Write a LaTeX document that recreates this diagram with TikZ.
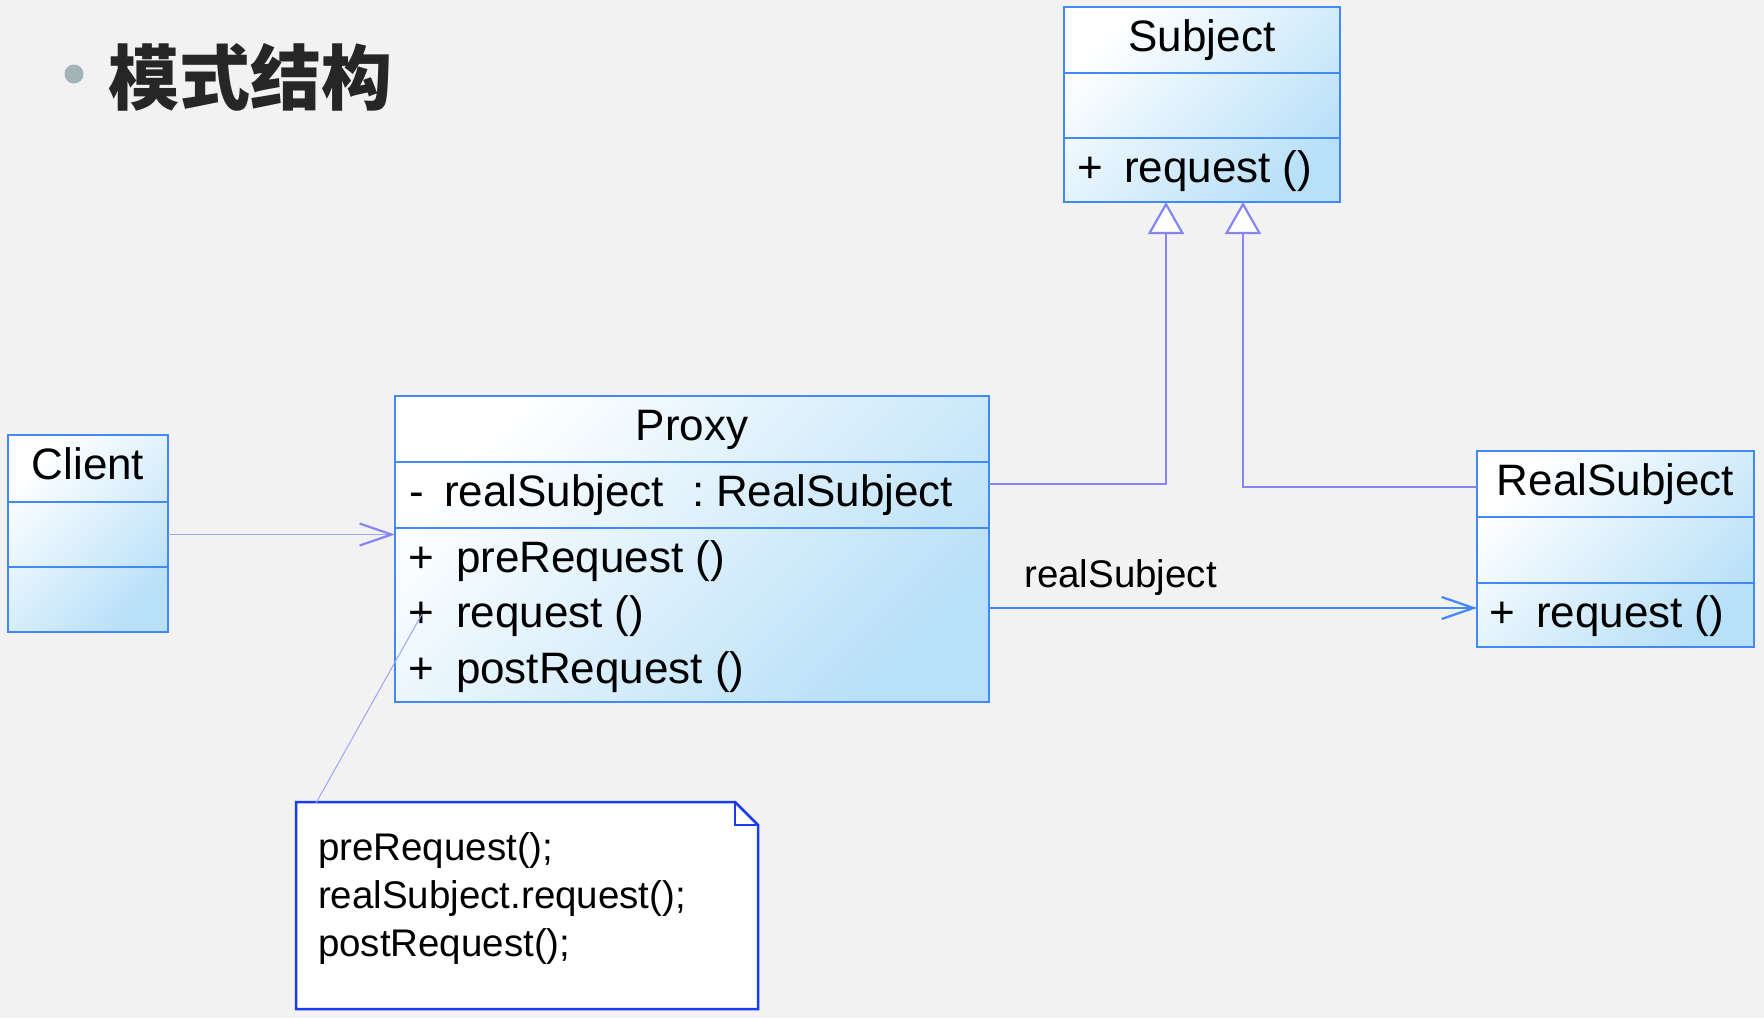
\documentclass[tikz,border=0pt]{standalone}
\usepackage{fontspec}
\setmainfont{Liberation Sans}
\newfontfamily\cjk{Noto Sans CJK SC}
\usetikzlibrary{arrows.meta,calc}
\definecolor{bg}{HTML}{F2F2F2}
\definecolor{boxline}{HTML}{4189F5}
\definecolor{boxfill}{HTML}{B8E0F8}
\definecolor{genline}{HTML}{8585F8}
\definecolor{noteline}{HTML}{1A3CF0}
\definecolor{thinline}{HTML}{9EA4FF}
\definecolor{titlec}{HTML}{262626}
\definecolor{bulletc}{HTML}{A3B3B8}
\newcommand\clsfont{\fontsize{44}{55}\selectfont}
\newcommand\notefont{\fontsize{38.5}{48}\selectfont}
\tikzset{
  classbox/.style={top color=white, bottom color=boxfill,
    shading angle=45, anchor=north west, inner sep=0pt, outer sep=0pt},
  comp/.style={draw=boxline, line width=2.4pt, anchor=north west, inner sep=0pt, outer sep=0pt},
  txt/.style={inner sep=0pt, outer sep=0pt, anchor=base west, font=\clsfont, text=black},
  ctxt/.style={inner sep=0pt, outer sep=0pt, anchor=base, font=\clsfont, text=black},
  ntxt/.style={inner sep=0pt, outer sep=0pt, anchor=base west, font=\notefont, text=black},
  gen/.style={draw=genline, line width=2.2pt,
    -{Triangle[open, fill=white, length=32pt, width=36pt]}},
  assoc/.style={draw=boxline, line width=2.2pt,
    -{Straight Barb[length=32pt, width=22pt]}},
  thinarrow/.style={draw=thinline, line width=1pt,
    -{Straight Barb[length=32pt, width=22pt, line width=2.2pt, color=genline]}},
  thinlink/.style={draw=thinline, line width=1pt},
}
\begin{document}
\begin{tikzpicture}[x=1pt, y=-1pt]
\fill[bg] (0,0) rectangle (1764,1018);
\useasboundingbox (0,0) rectangle (1764,1018);

% title
\fill[bulletc] (74,74) circle (9.5);
\node[inner sep=0pt, anchor=base west, text=titlec, font=\cjk\bfseries\fontsize{71}{80}\selectfont] (title) at (108,104) {模式结构};

% Subject
\node[classbox, minimum width=276pt, minimum height=195pt] (subj) at (1064,7) {};
\node[comp, minimum width=276pt, minimum height=66pt] (subjHead) at (1064,7) {};
\node[comp, minimum width=276pt, minimum height=65pt] (subjAttr) at (1064,73) {};
\node[comp, minimum width=276pt, minimum height=64pt] (subjOps) at (1064,138) {};
\node[ctxt] (subjName) at (1202,51) {Subject};
\node[txt] (subjP) at (1077,182) {+};
\node[txt] (subjOp) at (1124,182) {request ()};

% Client
\node[classbox, minimum width=160pt, minimum height=197pt] (client) at (8,435) {};
\node[comp, minimum width=160pt, minimum height=67pt] (clientHead) at (8,435) {};
\node[comp, minimum width=160pt, minimum height=65pt] (clientAttr) at (8,502) {};
\node[comp, minimum width=160pt, minimum height=65pt] (clientOps) at (8,567) {};
\node[ctxt] (clientName) at (88,479) {Client};

% Proxy
\node[classbox, minimum width=594pt, minimum height=306pt] (proxy) at (395,396) {};
\node[comp, minimum width=594pt, minimum height=66pt] (proxyHead) at (395,396) {};
\node[comp, minimum width=594pt, minimum height=66pt] (proxyAttr) at (395,462) {};
\node[comp, minimum width=594pt, minimum height=174pt] (proxyOps) at (395,528) {};
\node[ctxt] (proxyName) at (692,440) {Proxy};
\node[txt] (proxyM) at (409,506) {-};
\node[txt] (proxyA1) at (444,506) {realSubject};
\node[txt] (proxyA2) at (692,506) {:};
\node[txt] (proxyA3) at (716,506) {RealSubject};
\node[txt] (proxyP1) at (408,572) {+};
\node[txt] (proxyO1) at (456,572) {preRequest ()};
\node[txt] (proxyP2) at (408,627.5) {+};
\node[txt] (proxyO2) at (456,627.5) {request ()};
\node[txt] (proxyP3) at (408,683) {+};
\node[txt] (proxyO3) at (456,683) {postRequest ()};

% RealSubject
\node[classbox, minimum width=277pt, minimum height=196pt] (rs) at (1477,451) {};
\node[comp, minimum width=277pt, minimum height=66pt] (rsHead) at (1477,451) {};
\node[comp, minimum width=277pt, minimum height=66pt] (rsAttr) at (1477,517) {};
\node[comp, minimum width=277pt, minimum height=64pt] (rsOps) at (1477,583) {};
\node[ctxt] (rsName) at (1615.5,495) {RealSubject};
\node[txt] (rsP) at (1489,627) {+};
\node[txt] (rsOp) at (1536,627) {request ()};

% Note
\node[inner sep=0pt, outer sep=0pt, anchor=north west, minimum width=462pt, minimum height=207pt] (note) at (296,802) {};
\fill[white] (note.north west) -- ($(note.north east)+(-23,0)$) -- ($(note.north east)+(0,23)$) -- (note.south east) -- (note.south west) -- cycle;
\draw[noteline, line width=2.5pt, line join=miter] (note.north west) -- ($(note.north east)+(-23,0)$) -- ($(note.north east)+(0,23)$) -- (note.south east) -- (note.south west) -- cycle;
\draw[noteline, line width=1.5pt] ($(note.north east)+(-23,0)$) -- ($(note.north east)+(-23,23)$) -- ($(note.north east)+(0,23)$);
\node[ntxt] (n1) at (318,860) {preRequest();};
\node[ntxt] (n2) at (318,908) {realSubject.request();};
\node[ntxt] (n3) at (318,956) {postRequest();};

% connectors
\draw[thinarrow] (clientAttr.east) -- (clientAttr.east -| proxyOps.west);
\draw[gen] ($(proxyAttr.north east)+(0,22)$) -| ($(subjOps.south west)+(102,0)$);
\draw[gen] ($(rsHead.west)+(0,3)$) -| ($(subjOps.south west)+(179,0)$);
\draw[assoc] ($(proxyOps.north east)+(0,80)$) -- ($(rsOps.north west)+(0,25)$);
\node[inner sep=0pt, anchor=base west, font=\notefont] (assocLabel) at (1024,587) {realSubject};
\draw[thinlink] ($(note.north west)+(20,1)$) -- ($(proxyOps.north west)+(27,86)$);
\end{tikzpicture}
\end{document}
